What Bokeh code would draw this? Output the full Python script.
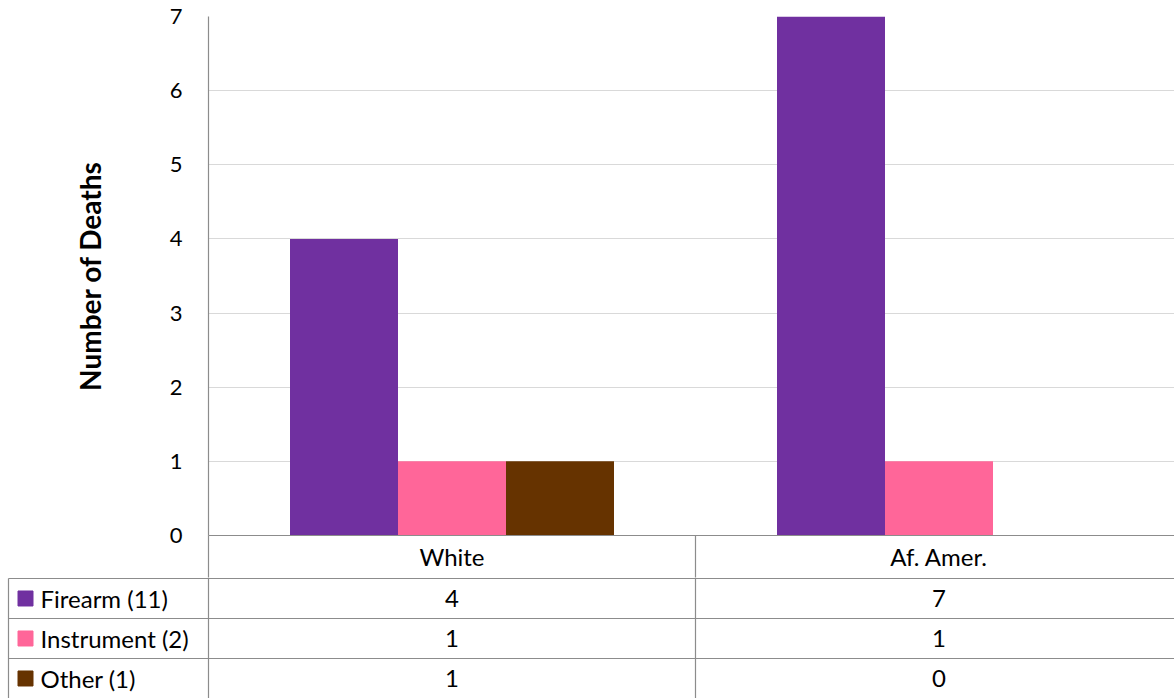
from bokeh.plotting import figure
from bokeh.models import Range1d, ColumnDataSource, FixedTicker
from bokeh.transform import dodge
from bokeh.layouts import column
from bokeh.embed import file_html
from bokeh.resources import INLINE
from bokeh.core.properties import value

# --- data -------------------------------------------------------------
groups = ["White", "Af. Amer."]
series = ["Firearm (11)", "Instrument (2)", "Other (1)"]
firearm = [4, 7]
instrument = [1, 1]
other = [1, 0]
y_ticks = [0, 1, 2, 3, 4, 5, 6, 7]

colors = ["#7030A0", "#FF6699", "#663300"]
FONT = "Lato"
FS = "24px"
GRID = "#D9D9D9"
RULE = "#8C8C8C"

# --- layout constants ---------------------------------------------------
W, H = 1174, 698
LEFT, TOP = 208, 16
AXIS_Y = 535            # pixel row of the zero line
HEADER_H = 42           # category header row under the bars
CHART_H = AXIS_Y + HEADER_H
TABLE_H = H - CHART_H
CAT_W = 487             # pixel width of one category column
BAR_W = 108 / CAT_W
X_MAX = (W - LEFT) / CAT_W

n_groups = len(groups)
centers = [i + 0.5 for i in range(n_groups)]
values = [firearm, instrument, other]
src = ColumnDataSource(dict(pos=centers, firearm=firearm,
                            instrument=instrument, other=other))

# --- bar chart; its x axis forms the category header row -----------------
p = figure(width=W, height=CHART_H,
           x_range=Range1d(0, X_MAX),
           y_range=Range1d(y_ticks[0], y_ticks[-1]),
           output_backend="svg", toolbar_location=None,
           min_border_left=LEFT, min_border_top=TOP,
           min_border_right=0, min_border_bottom=HEADER_H)
p.frame_align = False
p.outline_line_color = None
p.background_fill_color = "white"
p.border_fill_color = "white"

keys = ["firearm", "instrument", "other"]
for i, key in enumerate(keys):
    p.vbar(x=dodge("pos", (i - 1) * BAR_W), top=key,
           width=BAR_W, source=src, fill_color=colors[i], line_color=None)

p.xgrid.grid_line_color = None
p.ygrid.grid_line_color = GRID
p.ygrid.grid_line_width = 1

# category labels at group centres, cell dividers drawn as long minor ticks;
# the negative standoff pulls the labels back up inside the divider height
p.xaxis.ticker = FixedTicker(ticks=centers,
                             minor_ticks=list(range(n_groups + 1)))
p.xaxis.major_label_overrides = {c: g for c, g in zip(centers, groups)}
p.xaxis.axis_line_color = RULE
p.xaxis.axis_line_width = 1.2
p.xaxis.major_tick_line_color = None
p.xaxis.major_tick_in = 0
p.xaxis.major_tick_out = 0
p.xaxis.minor_tick_line_color = RULE
p.xaxis.minor_tick_line_width = 1.2
p.xaxis.minor_tick_in = 0
p.xaxis.minor_tick_out = HEADER_H
p.xaxis.major_label_standoff = -36
p.xaxis.major_label_text_font = FONT
p.xaxis.major_label_text_font_size = FS
p.xaxis.major_label_text_color = "black"

p.yaxis.ticker = y_ticks
p.yaxis.axis_line_color = RULE
p.yaxis.axis_line_width = 1.2
p.yaxis.major_tick_line_color = None
p.yaxis.minor_tick_line_color = None
p.yaxis.major_label_standoff = 20
p.yaxis.major_label_text_font = FONT
p.yaxis.major_label_text_font_size = "22px"
p.yaxis.major_label_text_color = "black"
p.yaxis.axis_label = "Number of Deaths"
p.yaxis.axis_label_text_font = FONT
p.yaxis.axis_label_text_font_style = "bold"
p.yaxis.axis_label_text_font_size = "28px"
p.yaxis.axis_label_text_color = "black"
p.yaxis.axis_label_standoff = 60

# --- data table rows ----------------------------------------------------
n_rows = len(series)
row_h = TABLE_H / n_rows
x_left = -LEFT / CAT_W
t = figure(width=W, height=TABLE_H,
           x_range=Range1d(x_left, X_MAX),
           y_range=Range1d(n_rows, -1 / row_h),
           output_backend="svg", toolbar_location=None,
           min_border_left=0, min_border_top=0,
           min_border_right=0, min_border_bottom=0)
t.frame_align = False
t.axis.visible = False
t.grid.grid_line_color = None
t.outline_line_color = None
t.background_fill_color = "white"
t.border_fill_color = "white"

edge = x_left + 8 / CAT_W

# table rules
t.segment(x0=[edge] * n_rows, x1=[X_MAX] * n_rows,
          y0=list(range(n_rows)), y1=list(range(n_rows)),
          line_color=RULE, line_width=1.2)
t.segment(x0=[edge], x1=[edge], y0=[0], y1=[n_rows],
          line_color=RULE, line_width=1.2)
t.segment(x0=list(range(n_groups)), x1=list(range(n_groups)),
          y0=[-1] * n_groups, y1=[n_rows] * n_groups,
          line_color=RULE, line_width=1.2)

for r, (name, vals) in enumerate(zip(series, values)):
    y = r + 0.5
    t.text(x=centers, y=[y] * n_groups, text=[str(v) for v in vals],
           text_align="center", text_baseline="middle",
           text_font=value(FONT), text_font_size=FS, text_color="black")
    t.text(x=[x_left + 40 / CAT_W], y=[y], text=[name],
           text_align="left", text_baseline="middle",
           text_font=value(FONT), text_font_size=FS, text_color="black")
    t.scatter(x=[x_left + 25 / CAT_W], y=[y], marker="square", size=15,
              fill_color=colors[r], line_color=colors[r])

layout = column(p, t, spacing=0)
open("out.html", "w").write(file_html(layout, INLINE))
